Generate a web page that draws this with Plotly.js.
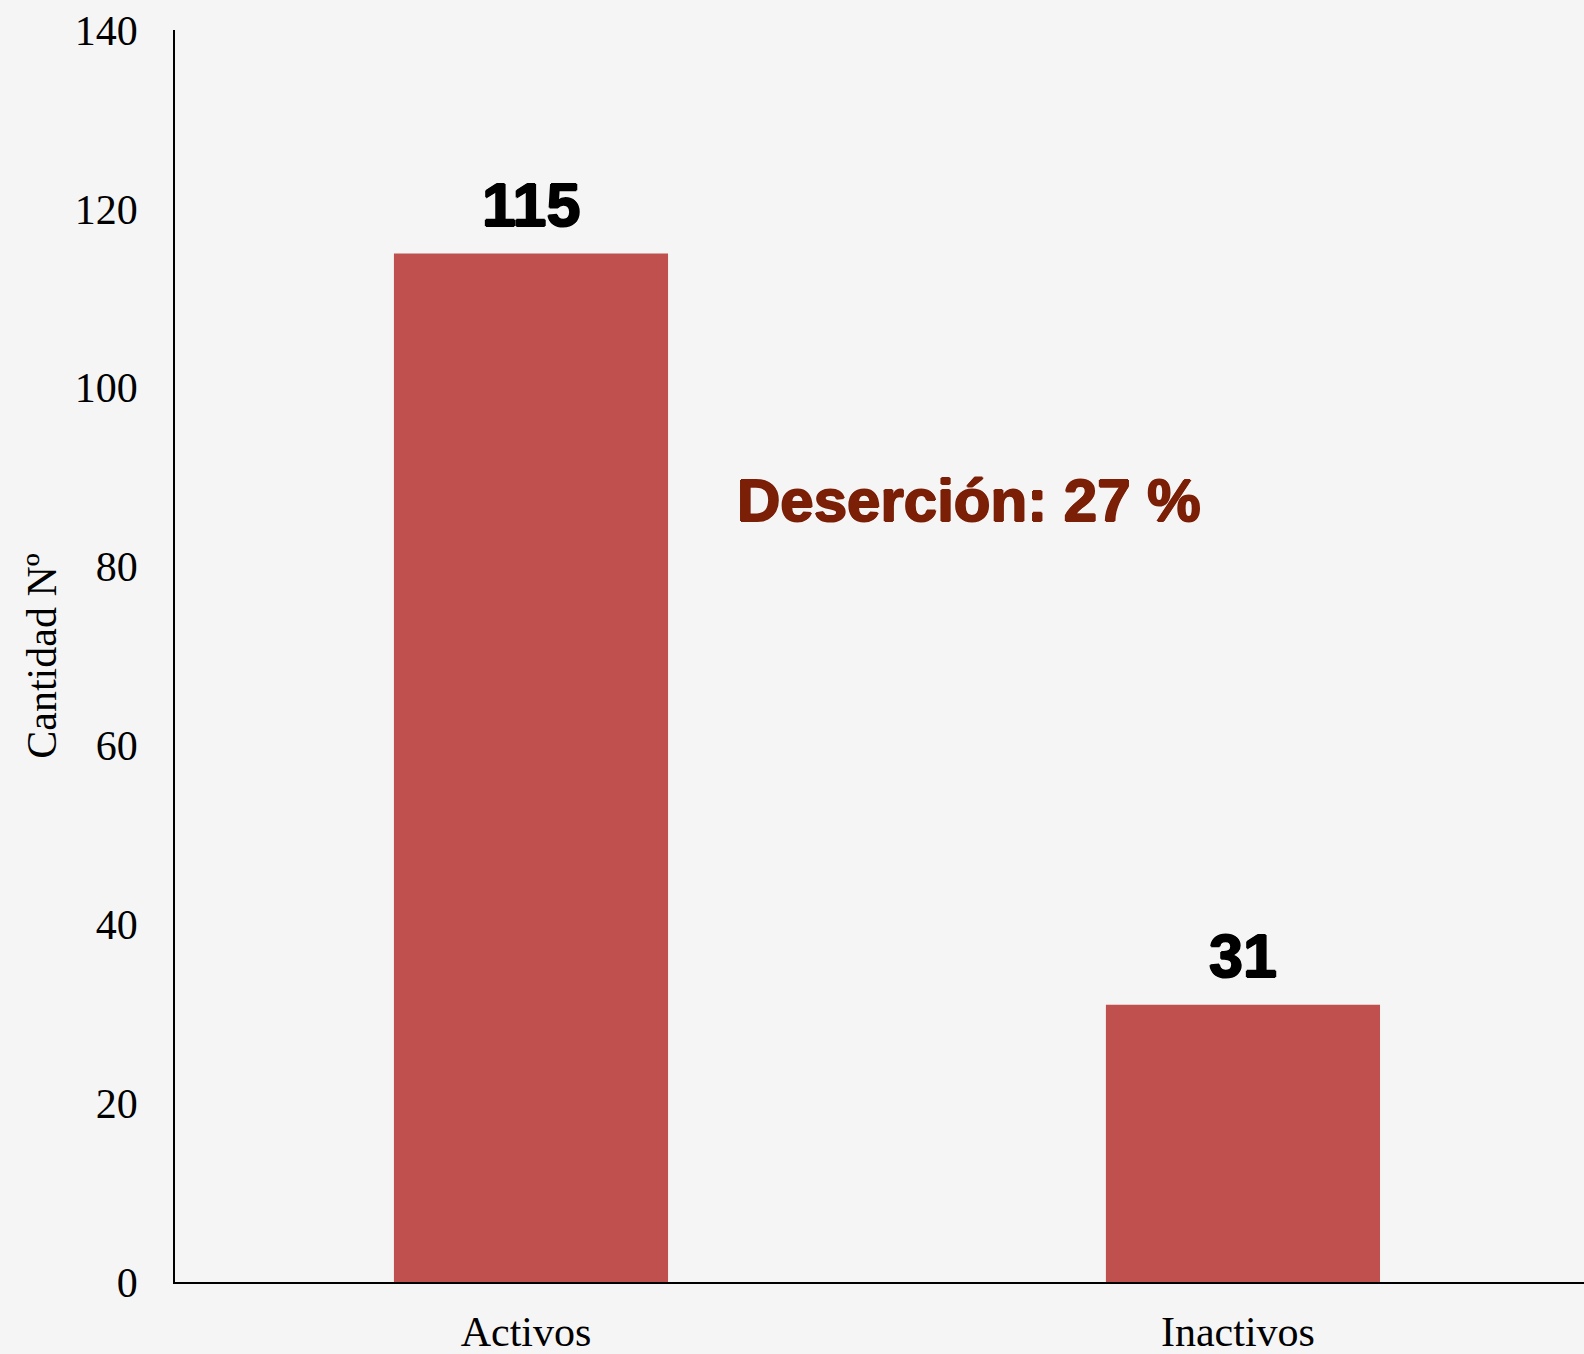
<!DOCTYPE html>
<html>
<head>
<meta charset="utf-8">
<script src="https://cdn.plot.ly/plotly-3.0.1.min.js"></script>
<style>
  html, body { margin: 0; padding: 0; background: #f5f5f5; }
  #chart { width: 1584px; height: 1354px; }
</style>
</head>
<body>
<div id="chart"></div>
<script>
const categories = ["Activos", "Inactivos"];
const counts = [115, 31];
const yTickValues = [0, 20, 40, 60, 80, 100, 120, 140];
const yAxisTitle = "Cantidad Nº";
const desercionPct = Math.round(counts[1] / counts[0] * 100);
const desercionLabel = "Deserción: " + desercionPct + " %";

const barColor = "#C0504D";
const bg = "#f5f5f5";

const trace = {
  type: "bar",
  x: categories,
  y: counts,
  width: 0.385,
  marker: { color: barColor },
  hoverinfo: "x+y"
};

const valueAnnotations = categories.map((c, i) => ({
  x: c, y: counts[i], xref: "x", yref: "y",
  text: String(counts[i]),
  showarrow: false,
  yanchor: "bottom",
  yshift: 13,
  font: { family: "Liberation Sans, Arial, sans-serif", size: 61, color: "#000", weight: 700,
          shadow: "1px 0 0 #000, -1px 0 0 #000, 0 1px 0 #000, 0 -1px 0 #000" }
}));

const layout = {
  width: 1584,
  height: 1354,
  paper_bgcolor: bg,
  plot_bgcolor: bg,
  margin: { l: 175, r: 0, t: 30, b: 72, pad: 0 },
  showlegend: false,
  font: { family: "Liberation Serif, Times New Roman, serif", size: 42, color: "#000" },
  xaxis: {
    type: "category",
    range: [-0.5, 1.479],
    showline: true, linecolor: "#000", linewidth: 2,
    showgrid: false, zeroline: false,
    ticks: "", ticklabelstandoff: 12, ticklabelshift: -5,
    tickfont: { family: "Liberation Serif, Times New Roman, serif", size: 42, color: "#000" },
    automargin: false, fixedrange: true
  },
  yaxis: {
    range: [0, 140],
    tickvals: yTickValues,
    showline: true, linecolor: "#000", linewidth: 1.5,
    showgrid: false, zeroline: false,
    ticks: "", ticklabelstandoff: 27,
    tickfont: { family: "Liberation Serif, Times New Roman, serif", size: 42, color: "#000" },
    title: { text: yAxisTitle, standoff: 5,
             font: { family: "Liberation Serif, Times New Roman, serif", size: 42, color: "#000" } },
    automargin: false, fixedrange: true
  },
  annotations: valueAnnotations.concat([{
    xref: "paper", yref: "paper",
    x: 0.5635, y: 0.6246,
    xanchor: "center", yanchor: "middle",
    text: desercionLabel,
    showarrow: false,
    font: { family: "Liberation Sans, Arial, sans-serif", size: 60, color: "#7B1F07", weight: 700,
            shadow: "1px 0 0 #7B1F07, -1px 0 0 #7B1F07, 0 1px 0 #7B1F07, 0 -1px 0 #7B1F07" }
  }])
};

Plotly.newPlot("chart", [trace], layout, { displayModeBar: false });
</script>
</body>
</html>
